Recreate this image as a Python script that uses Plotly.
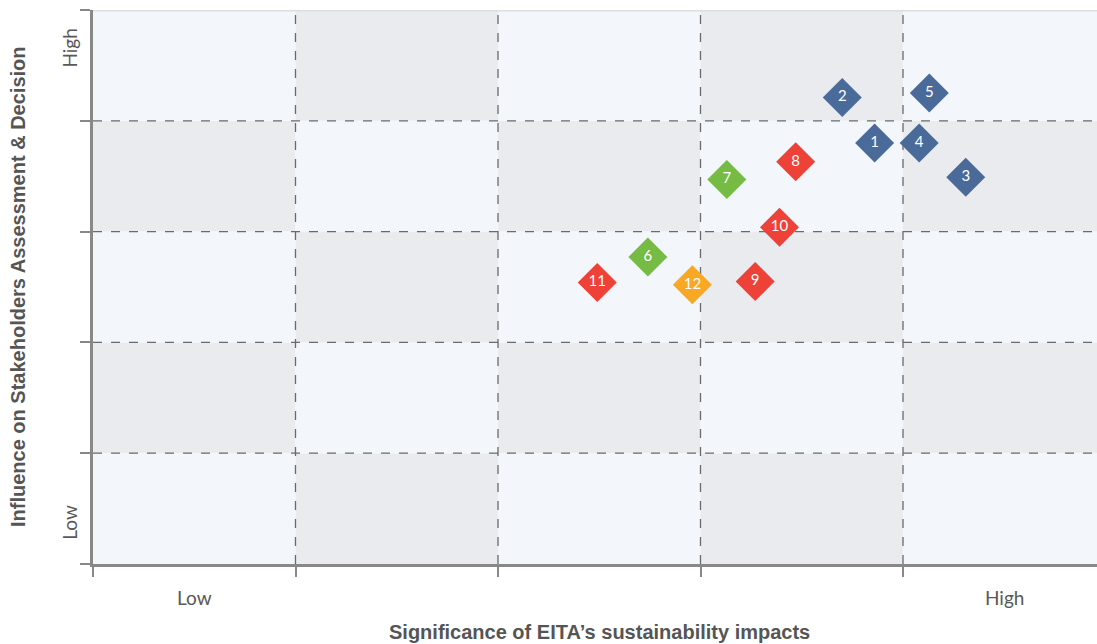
import plotly.graph_objects as go

# ---- data ----
labels = ["1", "2", "3", "4", "5", "6", "7", "8", "9", "10", "11", "12"]
significance = [3.86, 3.70, 4.31, 4.08, 4.13, 2.74, 3.13, 3.47, 3.27, 3.39, 2.49, 2.96]
influence = [3.80, 4.21, 3.49, 3.80, 4.25, 2.77, 3.47, 3.63, 2.55, 3.04, 2.54, 2.52]
groups = ["blue", "blue", "blue", "blue", "blue", "green", "green", "red", "red", "red", "red", "orange"]
x_tick_labels = ["Low", "High"]
y_tick_labels = ["Low", "High"]

palette = {"blue": "#4A6B9A", "green": "#76BB44", "red": "#EE4137", "orange": "#F8A822"}

n_cells = 5
light = "#F3F6FA"
dark = "#EAEBEF"

fig = go.Figure()

shapes = []
for i in range(n_cells):
    for j in range(n_cells):
        shapes.append(dict(type="rect", xref="x", yref="y", x0=i, x1=i + 1, y0=j, y1=j + 1,
                           fillcolor=dark if (i + j) % 2 == 1 else light,
                           line=dict(width=0), layer="below"))
for k in range(1, n_cells):
    shapes.append(dict(type="line", xref="x", yref="y", x0=k, x1=k, y0=0, y1=n_cells,
                       line=dict(color="#6A6A6A", width=1.3, dash="dash"), layer="below"))
    shapes.append(dict(type="line", xref="x", yref="y", x0=0, x1=n_cells, y0=k, y1=k,
                       line=dict(color="#6A6A6A", width=1.3, dash="dash"), layer="below"))
shapes.append(dict(type="line", xref="x", yref="y", x0=0, x1=n_cells, y0=n_cells, y1=n_cells,
                   line=dict(color="#DCDEE2", width=3), layer="below"))

fig.add_trace(go.Scatter(
    x=significance, y=influence, mode="markers+text", text=labels,
    textposition="middle center",
    textfont=dict(color="white", size=15, family="Lato"),
    marker=dict(symbol="diamond", size=30, color=[palette[g] for g in groups], line=dict(width=0)),
    hoverinfo="skip", showlegend=False, cliponaxis=False,
))

lab_font = dict(family="Lato", size=19, color="#595959")
title_font = dict(family="Liberation Sans, Arial", size=20, color="#555555")
annotations = [
    dict(text=x_tick_labels[0], x=0.5, y=-0.0596, xref="x", yref="paper", font=lab_font),
    dict(text=x_tick_labels[1], x=4.5, y=-0.0596, xref="x", yref="paper", font=lab_font),
    dict(text=y_tick_labels[0], x=-0.023, y=0.38, xref="paper", yref="y", textangle=-90, font=lab_font),
    dict(text=y_tick_labels[1], x=-0.023, y=4.66, xref="paper", yref="y", textangle=-90, font=lab_font),
    dict(text="<b>Significance of EITA’s sustainability impacts</b>", x=0.504, y=-0.1227,
         xref="paper", yref="paper", font=title_font),
    dict(text="<b>Influence on Stakeholders Assessment &amp; Decision</b>", x=-0.0747, y=0.5,
         xref="paper", yref="paper", textangle=-90, font=title_font),
]
for a in annotations:
    a.update(showarrow=False, xanchor="center", yanchor="middle")

fig.update_layout(
    width=1097, height=644,
    margin=dict(l=93, r=0, t=10, b=80),
    paper_bgcolor="white", plot_bgcolor="white",
    shapes=shapes, annotations=annotations,
    xaxis=dict(range=[0, 1004 / 202.5], tickvals=[0, 1, 2, 3, 4, 5], ticktext=[""] * 6,
               ticks="outside", ticklen=10, tickwidth=2, tickcolor="#888888",
               showline=True, linecolor="#888888", linewidth=2.5, showgrid=False, zeroline=False,
               fixedrange=True),
    yaxis=dict(range=[0, 5], tickvals=[0, 1, 2, 3, 4, 5], ticktext=[""] * 6,
               ticks="outside", ticklen=10, tickwidth=2, tickcolor="#888888",
               showline=True, linecolor="#888888", linewidth=2.5, showgrid=False, zeroline=False,
               fixedrange=True),
)

fig.write_html("out.html", config={"displayModeBar": False},
               post_script="document.body.style.margin='0';document.body.style.padding='0';")
